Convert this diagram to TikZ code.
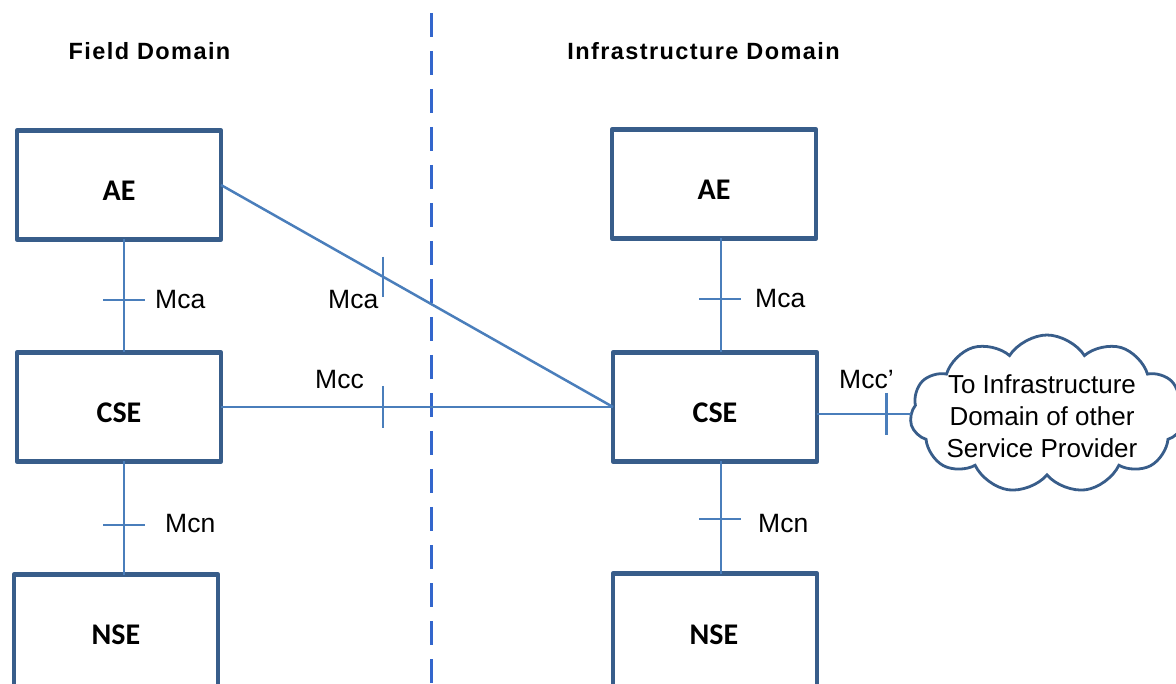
\documentclass[tikz,border=0pt]{standalone}
\usepackage{fontspec}
\setmainfont{Liberation Sans}
\newfontfamily\boxfont{Carlito}
\newfontfamily\headfont[LetterSpace=6]{Liberation Sans}
\usetikzlibrary{shapes.symbols}
\definecolor{boxblue}{HTML}{385D8A}
\definecolor{lineblue}{HTML}{4A7EBB}
\definecolor{dashblue}{HTML}{3366CC}
\begin{document}
\begin{tikzpicture}[x=1pt,y=-1pt,
  entity/.style={draw=boxblue, line width=4.5pt, minimum width=204pt, minimum height=109pt,
    inner sep=0pt, outer sep=0pt, line join=round},
  boxlbl/.style={font=\boxfont\bfseries\fontsize{30}{32}\selectfont, inner sep=0pt},
  head/.style={font=\headfont\bfseries\fontsize{23.5}{26}\selectfont, inner sep=0pt},
  lbl/.style={font=\fontsize{26.5}{30}\selectfont, inner sep=0pt, anchor=west},
  conn/.style={draw=lineblue, line width=2.5pt},
  tick/.style={draw=lineblue, line width=2.5pt},
  divider/.style={draw=dashblue, line width=3pt, dash pattern=on 24pt off 14pt},
  cloudbox/.style={cloud, draw=boxblue, line width=2.8pt, cloud puffs=11, cloud puff arc=115,
    aspect=1.75, minimum width=274pt, minimum height=158pt, inner sep=0pt, outer sep=0pt},
  cloudtxt/.style={font=\fontsize{26}{32}\selectfont, align=center, inner sep=0pt}
]
\clip (0,0) rectangle (1176,684);
\useasboundingbox (0,0) rectangle (1176,684);

% headers
\node[head] (hfield) at (149.5,51) {Field Domain};
\node[head] (hinfra) at (703.5,51) {Infrastructure Domain};

% divider
\coordinate (dtop) at (431,13);
\coordinate (dbot) at (431,690);
\draw[divider] (dtop) -- (dbot);

% boxes
\node[entity] (ae1) at (119,185) {};
\node[entity] (cse1) at (119,407) {};
\node[entity, minimum height=125pt] (nse1) at (116,637) {};
\node[entity] (ae2) at (714,184) {};
\node[entity] (cse2) at (715,407) {};
\node[entity, minimum height=125pt] (nse2) at (715,636) {};

\node[boxlbl] (ae1t) at ([yshift=-6pt]ae1.center) {AE};
\node[boxlbl] (cse1t) at ([yshift=-6pt]cse1.center) {CSE};
\node[boxlbl] (nse1t) at (116,635) {NSE};
\node[boxlbl] (ae2t) at ([yshift=-6pt]ae2.center) {AE};
\node[boxlbl] (cse2t) at ([yshift=-6pt]cse2.center) {CSE};
\node[boxlbl] (nse2t) at (714,635) {NSE};

% cloud
\node[cloudbox] (cl) at (1047,414) {};
\node[cloudtxt] (clt) at (1042,416) {To Infrastructure\\Domain of other\\Service Provider};

% vertical guide coordinates
\coordinate (lx) at (124,0);
\coordinate (rx) at (721,0);

% connectors
\draw[conn] (ae1.south -| lx) -- (cse1.north -| lx);
\draw[conn] (cse1.south -| lx) -- (nse1.north -| lx);
\draw[conn] (ae2.south -| rx) -- (cse2.north -| rx);
\draw[conn] (cse2.south -| rx) -- (nse2.north -| rx);
\draw[conn] (ae1.east) -- (cse2.west) coordinate[pos=0.413] (tdiag);
\draw[conn] (cse1.east) -- (cse2.west) coordinate[pos=0.413] (tmcc);
\draw[conn] (cse2.east |- cl.west) -- (cl.west) coordinate[pos=0.74] (tmccp);

% ticks
\coordinate (tl1) at (124,300);
\coordinate (tl2) at (124,525);
\coordinate (tr1) at (720,299);
\coordinate (tr2) at (720,519);
\draw[tick] ([xshift=-21pt]tl1) -- ([xshift=21pt]tl1);
\draw[tick] ([xshift=-21pt]tl2) -- ([xshift=21pt]tl2);
\draw[tick] ([xshift=-21pt]tr1) -- ([xshift=21pt]tr1);
\draw[tick] ([xshift=-21pt]tr2) -- ([xshift=21pt]tr2);
\draw[tick] ([yshift=20pt]tdiag) -- ([yshift=-20pt]tdiag);
\draw[tick] ([yshift=21pt]tmcc) -- ([yshift=-21pt]tmcc);
\draw[tick] ([yshift=21pt]tmccp) -- ([yshift=-21pt]tmccp);

% labels
\node[lbl] (lmca1) at (155,300) {Mca};
\node[lbl] (lmca2) at (328,300) {Mca};
\node[lbl] (lmcc) at (315,380) {Mcc};
\node[lbl] (lmcn1) at (165,524) {Mcn};
\node[lbl] (lmca3) at (755,299) {Mca};
\node[lbl] (lmcn2) at (758,524) {Mcn};
\node[lbl] (lmccp) at (839,380) {Mcc’};
\end{tikzpicture}
\end{document}
